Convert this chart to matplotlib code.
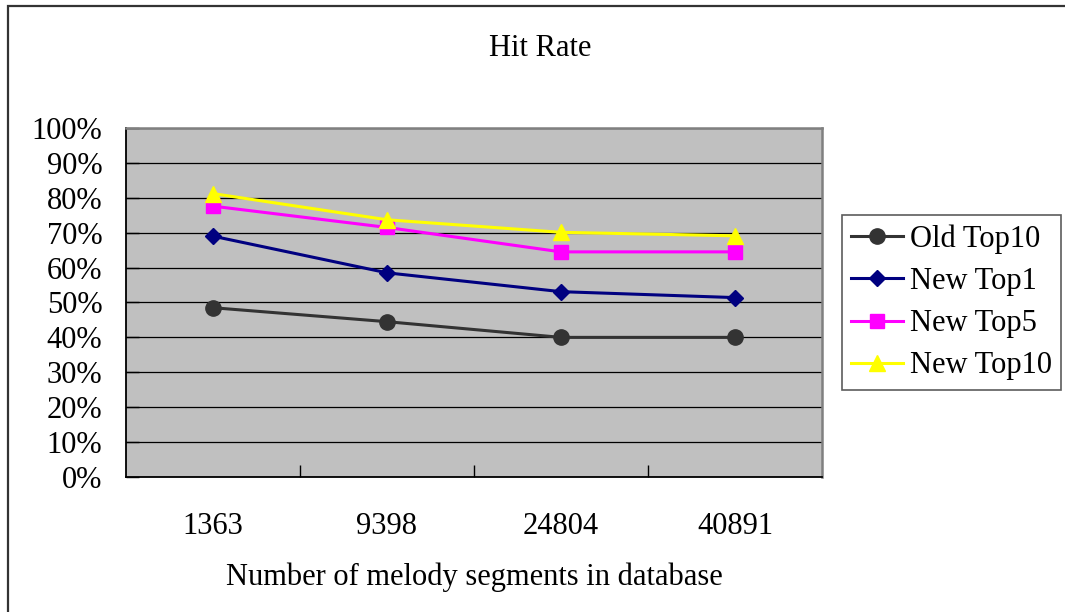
import matplotlib
matplotlib.use("Agg")
import matplotlib.pyplot as plt
from matplotlib.patches import Rectangle
from matplotlib.ticker import FixedLocator, NullFormatter

# ---- data ----
segments = ["1363", "9398", "24804", "40891"]
old_top10 = [48.5, 44.5, 40.0, 40.0]
new_top1 = [69.0, 58.5, 53.1, 51.4]
new_top5 = [77.6, 71.5, 64.5, 64.5]
new_top10 = [81.2, 73.7, 70.1, 69.1]

series_names = ["Old Top10", "New Top1", "New Top5", "New Top10"]
y_ticks = list(range(0, 101, 10))

plt.rcParams['font.family'] = ['Liberation Serif', 'DejaVu Serif']
plt.rcParams['font.size'] = 22

fig = plt.figure(figsize=(10.65, 6.12), dpi=100)
ax = fig.add_axes([0.1183, 0.2206, 0.6535, 0.5703])
ax.set_facecolor("#C0C0C0")

x = list(range(len(segments)))
styles = [
    (old_top10, "#333333", "o", 11),
    (new_top1, "#000080", "D", 8.5),
    (new_top5, "#FF00FF", "s", 10),
    (new_top10, "#FFFF00", "^", 11),
]
for (vals, col, mk, ms), name in zip(styles, series_names):
    ax.plot(x, vals, color=col, lw=2.2, marker=mk, markersize=ms,
            markerfacecolor=col, markeredgecolor=col, label=name, zorder=3)

# axes and grid
ax.set_xlim(-0.5, len(segments) - 0.5)
ax.set_ylim(0, 100)
ax.set_yticks(y_ticks)
ax.set_yticklabels([f"{v}%" for v in y_ticks])
ax.yaxis.grid(True, color="black", lw=0.9, zorder=1)
ax.set_axisbelow(True)
ax.tick_params(axis="y", direction="in", length=9, width=1, pad=17)

ax.set_xticks(x)
ax.set_xticklabels(segments)
ax.tick_params(axis="x", which="major", length=0, pad=25)
ax.xaxis.set_minor_locator(FixedLocator([0.5, 1.5, 2.5]))
ax.xaxis.set_minor_formatter(NullFormatter())
ax.tick_params(axis="x", which="minor", direction="in", length=9, width=1)

for side in ["left", "bottom"]:
    ax.spines[side].set_color("black")
    ax.spines[side].set_linewidth(1.3)
for side in ["top", "right"]:
    ax.spines[side].set_color("#808080")
    ax.spines[side].set_linewidth(1.8)

ax.set_xlabel("Number of melody segments in database", labelpad=16)
fig.text(0.507, 0.92, "Hit Rate", ha="center", va="center")

leg = ax.legend(loc="center left", bbox_to_anchor=(1.0287, 0.5),
                frameon=True, fancybox=False, edgecolor="#333333",
                handlelength=1.7, handletextpad=0.22, borderpad=0.3,
                labelspacing=0.43, borderaxespad=0)
leg.get_frame().set_linewidth(1.2)

# outer chart frame
fig.patches.append(Rectangle((8 / 1065, -0.1), 1.2, 1 - 6 / 612 + 0.1,
                             transform=fig.transFigure, fill=False,
                             edgecolor="#333333", lw=1.6))

fig.savefig("out.png", dpi=100)
